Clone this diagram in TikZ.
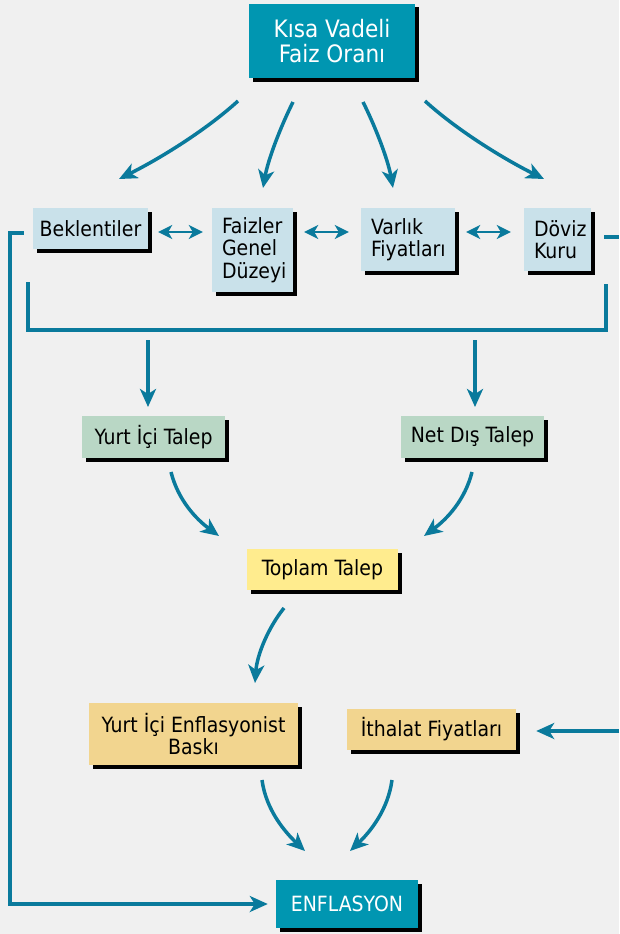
\documentclass[tikz,border=0pt]{standalone}
\usepackage{fontspec}
\setmainfont{DejaVu Sans Condensed}
\usetikzlibrary{arrows.meta,shadows}
\definecolor{bg}{HTML}{F0F0F0}
\definecolor{arr}{HTML}{0A7A9C}
\definecolor{teal}{HTML}{0096B1}
\definecolor{lblue}{HTML}{C9E1EA}
\definecolor{lgreen}{HTML}{B9D7C5}
\definecolor{lyellow}{HTML}{FFEC8E}
\definecolor{tan}{HTML}{F2D58F}
\tikzset{
  box/.style={inner sep=0pt, font=\fontsize{21}{22.5}\selectfont,
    drop shadow={shadow xshift=3.5pt, shadow yshift=-3.5pt, fill=black, opacity=1}},
  conn/.style={draw=arr, line width=3.5pt, -{Stealth[length=18pt,width=16pt,inset=5pt]}},
  dbl/.style={draw=arr, line width=2.4pt, {Stealth[length=14pt,width=14pt,inset=4pt]}-{Stealth[length=14pt,width=14pt,inset=4pt]}},
  wire/.style={draw=arr, line width=3.2pt},
}
\begin{document}
\begin{tikzpicture}[x=1pt,y=-1pt]
\useasboundingbox (0,0) rectangle (619,934);
\fill[bg] (0,0) rectangle (619,934);

% boxes
\node[box, fill=teal, text=white, font=\fontsize{24}{25.5}\selectfont, align=center,
  minimum width=166pt, minimum height=74pt] (kisa) at (332,41) {Kısa Vadeli\\Faiz Oranı};
\node[box, fill=lblue, minimum width=115pt, minimum height=41pt] (bek) at (90.5,228.5) {Beklentiler};
\node[box, fill=lblue, align=left, text width=61pt, inner xsep=10pt,
  minimum width=81pt, minimum height=84pt] (faiz) at (252.5,250) {Faizler\\Genel\\Düzeyi};
\node[box, fill=lblue, align=left, text width=74pt, inner xsep=10pt,
  minimum width=94pt, minimum height=63pt] (varlik) at (408,239.5) {Varlık\\Fiyatları};
\node[box, fill=lblue, align=left, text width=47pt, inner xsep=10pt,
  minimum width=67pt, minimum height=63pt] (doviz) at (557.5,239.5) {Döviz\\Kuru};
\node[box, fill=lgreen, minimum width=143pt, minimum height=42pt] (yurt) at (153.5,437) {Yurt İçi Talep};
\node[box, fill=lgreen, minimum width=143pt, minimum height=42pt] (net) at (472.5,437) {Net Dış Talep};
\node[box, fill=lyellow, minimum width=151pt, minimum height=41pt] (toplam) at (322.5,569.5) {Toplam Talep};
\node[box, fill=tan, align=center, minimum width=209pt, minimum height=62pt] (baski) at (193.5,734) {Yurt İçi Enflasyonist\\Baskı};
\node[box, fill=tan, minimum width=169pt, minimum height=41pt] (ithalat) at (431.5,729.5) {İthalat Fiyatları};
\node[box, fill=teal, text=white, minimum width=142pt, minimum height=48pt] (enf) at (347,904) {ENFLASYON};

% top curved arrows
\coordinate (a1s) at (238,101); \coordinate (a1e) at (119,179);
\coordinate (a2s) at (293,102); \coordinate (a2e) at (263,188);
\coordinate (a3s) at (363,102); \coordinate (a3e) at (393,188);
\coordinate (a4s) at (425,101); \coordinate (a4e) at (544,179);
\draw[conn] (a1s) .. controls (205,131) and (159,159) .. (a1e);
\draw[conn] (a2s) .. controls (280,128) and (268,160) .. (a2e);
\draw[conn] (a3s) .. controls (376,128) and (388,160) .. (a3e);
\draw[conn] (a4s) .. controls (458,131) and (504,159) .. (a4e);

% double arrows
\draw[dbl] ([xshift=10pt,yshift=-3.5pt]bek.east) -- ([xshift=-9pt,yshift=-3.5pt]bek.east -| faiz.west);
\draw[dbl] ([xshift=11pt,yshift=-3.5pt]bek.east -| faiz.east) -- ([xshift=-12pt,yshift=-3.5pt]bek.east -| varlik.west);
\draw[dbl] ([xshift=11pt,yshift=-3.5pt]bek.east -| varlik.east) -- ([xshift=-13pt,yshift=-3.5pt]bek.east -| doviz.west);

% bracket
\coordinate (bl) at (28,282); \coordinate (br) at (606,284);
\draw[wire] (bl) -- (28,330) -- (606,330) -- (br);
\coordinate (d1s) at (148,340); \coordinate (d1e) at (148,407);
\coordinate (d2s) at (475,340); \coordinate (d2e) at (475,407);
\draw[conn] (d1s) -- (d1e);
\draw[conn] (d2s) -- (d2e);

% demand to total
\coordinate (m1s) at (171,472); \coordinate (m1e) at (219,536);
\coordinate (m2s) at (472,472); \coordinate (m2e) at (424,536);
\draw[conn] (m1s) .. controls (178,500) and (196,519) .. (m1e);
\draw[conn] (m2s) .. controls (465,500) and (447,519) .. (m2e);

% total to domestic pressure
\coordinate (t1s) at (284,608); \coordinate (t1e) at (255,683);
\draw[conn] (t1s) .. controls (268,628) and (257,655) .. (t1e);

% to inflation
\coordinate (b1s) at (262,780); \coordinate (b1e) at (305,851);
\coordinate (b2s) at (392,780); \coordinate (b2e) at (350,851);
\draw[conn] (b1s) .. controls (266,810) and (285,832) .. (b1e);
\draw[conn] (b2s) .. controls (388,810) and (370,832) .. (b2e);

% feedback left
\coordinate (fl) at (10,233);
\draw[wire, -{Stealth[length=18pt,width=16pt,inset=5pt]}]
  ([xshift=-9pt,yshift=-4.5pt]bek.west) -- (fl) -- (fl |- enf.west) -- ([xshift=-8pt]enf.west);

% right side
\coordinate (rs) at (619,237); \coordinate (rb) at (619,731);
\draw[wire] ([xshift=13pt]rs -| doviz.east) -- (rs);
\draw[conn] (rb) -- ([xshift=20pt]rb -| ithalat.east);
\end{tikzpicture}
\end{document}
